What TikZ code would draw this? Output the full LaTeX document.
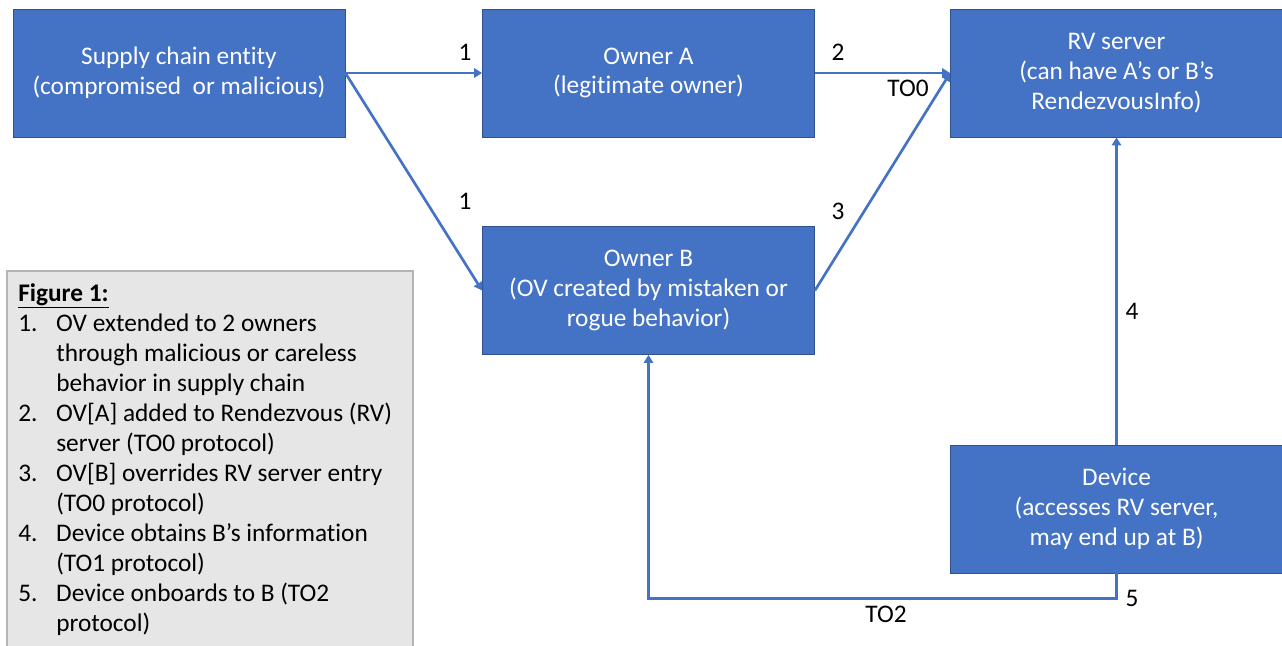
\documentclass[tikz,border=0pt]{standalone}
\usepackage{fontspec}
\setmainfont{Carlito}[Ligatures=NoCommon]
\usetikzlibrary{arrows.meta}
\definecolor{boxblue}{HTML}{4472C4}
\definecolor{boxedge}{HTML}{2F528F}
\definecolor{notegray}{HTML}{E7E6E6}
\definecolor{noteedge}{HTML}{B4B4B4}
\tikzset{
  entity/.style={draw=boxedge,fill=boxblue,text=white,line width=0.6pt,
    minimum width=249pt,minimum height=96pt,align=center,
    font=\fontsize{19}{22.3}\selectfont},
  link/.style={draw=boxblue,line width=2pt,-{Triangle[width=7pt,length=6pt]}},
  num/.style={font=\fontsize{19}{22.5}\selectfont}
}
\begin{document}
\begin{tikzpicture}[x=0.75pt,y=-0.75pt]
\useasboundingbox (0,0) rectangle (1282,646);
\node[entity] (supply) at (179,73) {Supply chain entity\\(compromised\ \ or malicious)};
\node[entity] (ownerA) at (648.5,73) {Owner A\\(legitimate owner)};
\node[entity] (rv) at (1116.5,73) {RV server\\(can have A’s or B’s\\RendezvousInfo)};
\node[entity] (ownerB) at (648.5,290.5) {Owner B\\(OV created by mistaken or\\rogue behavior)};
\node[entity] (device) at (1116.5,509) {Device\\(accesses RV server,\\may end up at B)};

\draw[link] (supply.east) -- (ownerA.west);
\draw[link] (supply.east) -- (ownerB.west);
\draw[link] (ownerA.east) -- (rv.west);
\draw[link] (ownerB.east) -- (rv.west);
\draw[link] (device.north) -- (rv.south);
\draw[link] (device.south) -- ++(0,25) -| (ownerB.south);

\foreach \x/\y/\t in {465/52/1,465/201/1,838/52/2,908/88/TO0,838/211/3,1132/311/4,1132/598/5,886/614/TO2} {
  \node[num] at (\x,\y) {\t};
}

% legend
\draw[fill=notegray,draw=noteedge,line width=0.8pt] (7,271) rectangle (413,660);
\node[num,anchor=north west,inner sep=0pt] (notes) at (18,280) {%
\begin{tabular}{@{}p{28.5pt}@{}l@{}}
\multicolumn{2}{@{}l@{}}{\underline{\textbf{Figure 1:}}}\\
1. & OV extended to 2 owners\\
   & through malicious or careless\\
   & behavior in supply chain\\
2. & OV[A] added to Rendezvous (RV)\\
   & server (TO0 protocol)\\
3. & OV[B] overrides RV server entry\\
   & (TO0 protocol)\\
4. & Device obtains B’s information\\
   & (TO1 protocol)\\
5. & Device onboards to B (TO2\\
   & protocol)
\end{tabular}};
\end{tikzpicture}
\end{document}
